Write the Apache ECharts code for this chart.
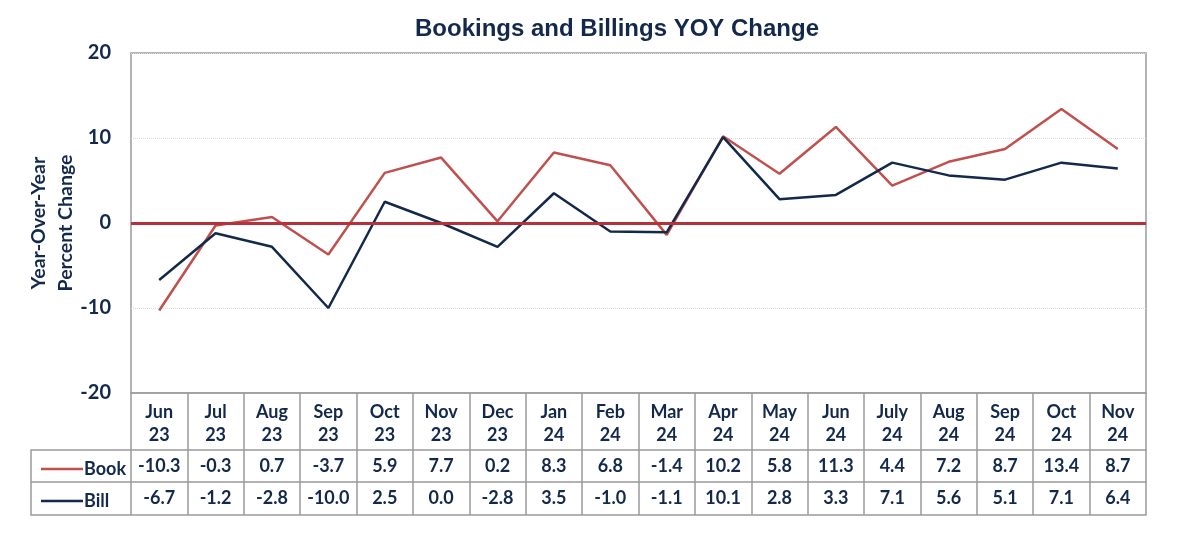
<!DOCTYPE html>
<html>
<head>
<meta charset="utf-8">
<script src="https://cdn.jsdelivr.net/npm/echarts@6/dist/echarts.min.js"></script>
<style>html,body{margin:0;padding:0;background:#fff;}#c{width:1178px;height:540px;}</style>
</head>
<body>
<div id="c"></div>
<script>
const categories = ['Jun\n23','Jul\n23','Aug\n23','Sep\n23','Oct\n23','Nov\n23','Dec\n23','Jan\n24','Feb\n24','Mar\n24','Apr\n24','May\n24','Jun\n24','July\n24','Aug\n24','Sep\n24','Oct\n24','Nov\n24'];
const book = [-10.3,-0.3,0.7,-3.7,5.9,7.7,0.2,8.3,6.8,-1.4,10.2,5.8,11.3,4.4,7.2,8.7,13.4,8.7];
const bill = [-6.7,-1.2,-2.8,-10.0,2.5,0.0,-2.8,3.5,-1.0,-1.1,10.1,2.8,3.3,7.1,5.6,5.1,7.1,6.4];
const yTicks = [-20,-10,0,10,20];

const NAVY = '#13294b';
const RED = '#c0504d';
const GRID = '#9a9a9a';
const FONT = 'Lato';

const chart = echarts.init(document.getElementById('c'));
const gl = 131, gr = 1146, gt = 53, gb = 393;

function rowAxis(offset, showLabel, arr) {
  return {
    type: 'category', data: categories, position: 'bottom', offset: offset,
    boundaryGap: true,
    axisLine: { show: true, onZero: false, lineStyle: { color: GRID, width: 1.5 } },
    axisTick: { show: false },
    axisLabel: showLabel ? {
      show: true, interval: 0, margin: 7,
      formatter: (v, i) => arr[i].toFixed(1),
      color: NAVY, fontFamily: FONT, fontWeight: 'bold', fontSize: 18
    } : { show: false },
    splitLine: { show: false }
  };
}

chart.setOption({
  animation: false,
  backgroundColor: '#fff',
  title: {
    text: 'Bookings and Billings YOY Change',
    left: 612, top: 12, textAlign: 'center',
    textStyle: { fontFamily: 'Liberation Sans', fontWeight: 'bold', fontSize: 24, color: NAVY }
  },
  legend: {
    orient: 'vertical', left: 36, top: 455, itemGap: 14,
    itemWidth: 42, itemHeight: 2.5, icon: 'rect',
    data: ['Book', 'Bill'],
    textStyle: { color: NAVY, fontFamily: FONT, fontWeight: 'bold', fontSize: 18, padding: [0,0,0,-4] },
    selectedMode: false
  },
  grid: { left: gl, right: 1178 - gr, top: gt, bottom: 540 - gb, show: true, borderColor: GRID, borderWidth: 1.5 },
  xAxis: [
    {
      type: 'category', data: categories, boundaryGap: true, position: 'bottom',
      axisLine: { show: true, onZero: false, lineStyle: { color: GRID, width: 1.5 } },
      axisTick: { show: true, interval: 0, length: 122, lineStyle: { color: GRID, width: 1.5 } },
      axisLabel: { interval: 0, margin: 8, color: NAVY, fontFamily: FONT, fontWeight: 'bold', fontSize: 18, lineHeight: 23 },
      splitLine: { show: false }
    },
    rowAxis(57, true, book),
    rowAxis(89, true, bill),
    rowAxis(122, false, book)
  ],
  yAxis: {
    type: 'value', min: -20, max: 20, interval: 10,
    name: 'Year-Over-Year\nPercent Change', nameLocation: 'middle', nameGap: 52, nameRotate: 90,
    nameMoveOverlap: false,
    nameTextStyle: { color: NAVY, fontFamily: FONT, fontWeight: 'bold', fontSize: 19.5, lineHeight: 27 },
    axisLine: { show: false }, axisTick: { show: false },
    axisLabel: { color: NAVY, fontFamily: FONT, fontWeight: 'bold', fontSize: 20, margin: 20,
      formatter: v => yTicks.includes(v) ? String(v) : '' },
    splitLine: { show: true, lineStyle: { color: '#dcdcdc', type: 'dotted', width: 1 } }
  },
  series: [
    {
      name: 'Book', type: 'line', data: book, symbol: 'none',
      lineStyle: { color: RED, width: 2.5 }, itemStyle: { color: RED },
      markLine: {
        silent: true, symbol: 'none', label: { show: false },
        lineStyle: { color: '#b8313a', width: 3, type: 'solid' },
        data: [{ yAxis: 0 }]
      },
      z: 3
    },
    {
      name: 'Bill', type: 'line', data: bill, symbol: 'none',
      lineStyle: { color: NAVY, width: 2.5 }, itemStyle: { color: NAVY },
      z: 4
    }
  ],
  graphic: [
    { type: 'polyline', shape: { points: [[gl, 450], [31, 450], [31, 515], [gl, 515]] },
      style: { stroke: GRID, lineWidth: 1.5, fill: null } },
    { type: 'line', shape: { x1: 31, y1: 482, x2: gl, y2: 482 }, style: { stroke: GRID, lineWidth: 1.5 } }
  ]
});
</script>
</body>
</html>
